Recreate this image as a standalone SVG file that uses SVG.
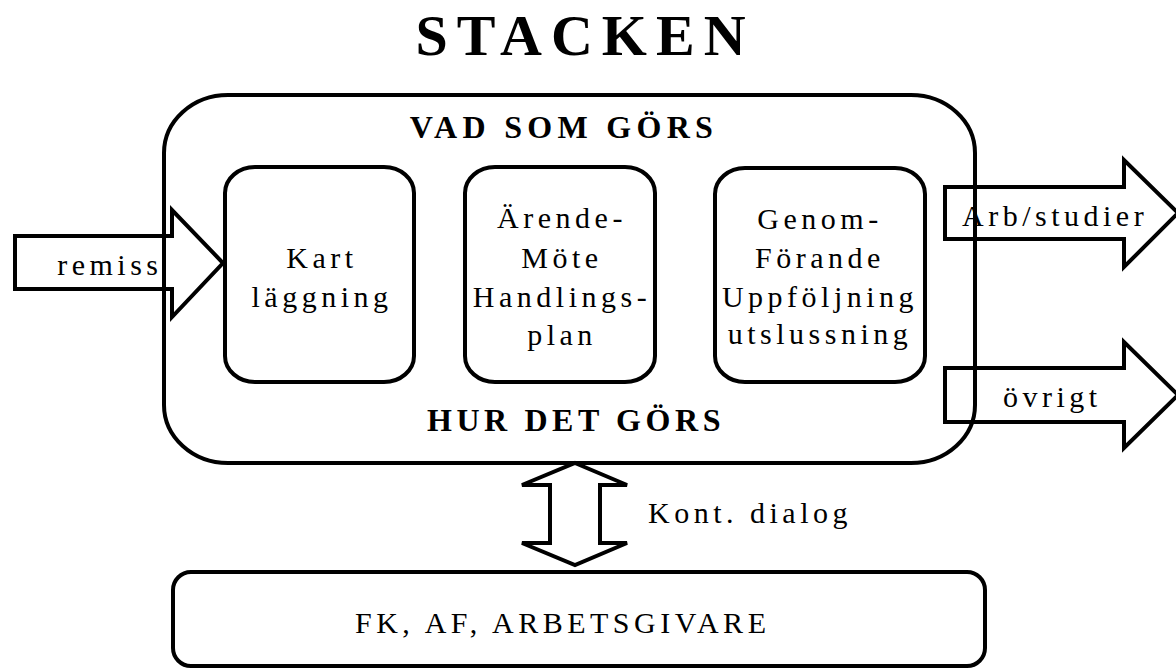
<svg xmlns="http://www.w3.org/2000/svg" width="1176" height="668" viewBox="0 0 1176 668" font-family="'Liberation Serif', 'DejaVu Serif', serif">
  <style>
    .ln { fill: none; stroke: #000; stroke-width: 4; stroke-linejoin: miter; }
    .ar { fill: #fff; stroke: #000; stroke-width: 4; stroke-linejoin: miter; }
    .t { font-family: 'Liberation Serif', 'DejaVu Serif', serif; font-size: 30px; letter-spacing: 4.5px; fill: #000; }
    .c { text-anchor: middle; }
    .h { font-family: 'Liberation Serif', 'DejaVu Serif', serif; font-weight: bold; fill: #000; text-anchor: middle; }
  </style>
  <rect width="1176" height="668" fill="#fff"/>

  <!-- title -->
  <text class="h" x="585" y="55" font-size="58" letter-spacing="9">STACKEN</text>

  <!-- connectors: block arrows -->
  <g id="connectors">
    <polygon class="ar" points="15,236 172,236 172,210 223,263 172,317 172,289 15,289"/>
    <polygon class="ar" points="945,187 1124,187 1124,160 1178,213 1124,267 1124,239 945,239"/>
    <polygon class="ar" points="945,368 1124,368 1124,342 1178,395 1124,448 1124,422 945,422"/>
    <polygon class="ar" points="575,463 627,485 600,485 600,543 627,543 575,565 522,543 550,543 550,485 522,485"/>
    <text class="t" x="162.5" y="275" text-anchor="end">remiss</text>
    <text class="t" x="962" y="226">Arb/studier</text>
    <text class="t" x="1003" y="407">övrigt</text>
    <text class="t" x="648" y="523">Kont. dialog</text>
  </g>

  <!-- main frame -->
  <g id="stacken">
    <rect class="ln" x="164" y="95" width="811" height="368" rx="64" ry="58"/>
    <text class="h" x="564" y="138" font-size="32" letter-spacing="5.3">VAD SOM GÖRS</text>
    <text class="h" x="576" y="431" font-size="32" letter-spacing="4.6">HUR DET GÖRS</text>
  </g>

  <g id="kartlaggning">
    <rect class="ln" x="225" y="167" width="189" height="215" rx="30" ry="26"/>
    <text class="t c" x="322" y="268">Kart</text>
    <text class="t c" x="322" y="307">läggning</text>
  </g>

  <g id="arendemote">
    <rect class="ln" x="465" y="167" width="190" height="215" rx="30" ry="26"/>
    <text class="t c" x="562" y="228">Ärende-</text>
    <text class="t c" x="562" y="268">Möte</text>
    <text class="t c" x="562" y="307">Handlings-</text>
    <text class="t c" x="562" y="345">plan</text>
  </g>

  <g id="genomforande">
    <rect class="ln" x="715" y="168" width="210" height="214" rx="30" ry="26"/>
    <text class="t c" x="820" y="229">Genom-</text>
    <text class="t c" x="820" y="268">Förande</text>
    <text class="t c" x="820" y="307">Uppföljning</text>
    <text class="t c" x="820" y="344">utslussning</text>
  </g>

  <g id="aktorer">
    <rect class="ln" x="173" y="572" width="812" height="94" rx="18" ry="18"/>
    <text class="t" x="355" y="633">FK, AF, ARBETSGIVARE</text>
  </g>
</svg>
